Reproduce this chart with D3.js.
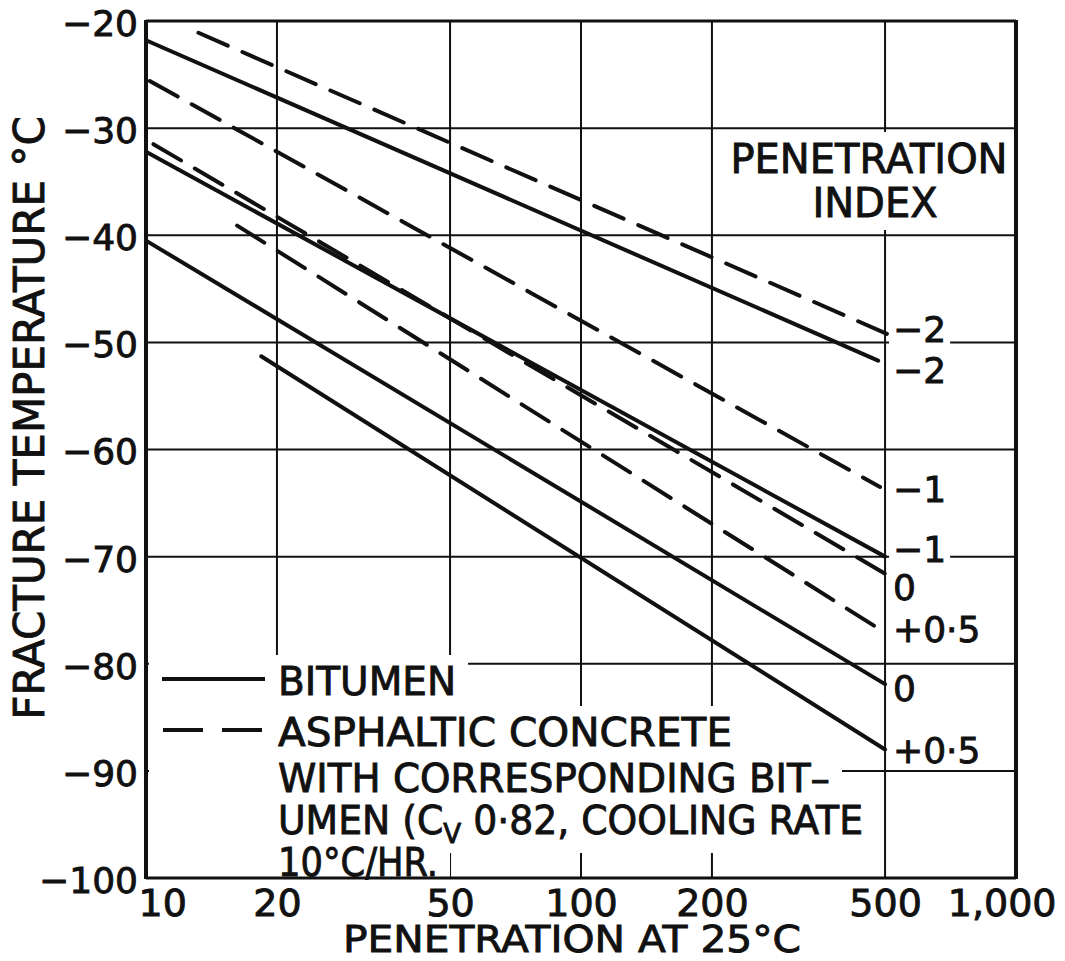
<!DOCTYPE html>
<html>
<head>
<meta charset="utf-8">
<script src="https://cdn.jsdelivr.net/npm/d3@7"></script>
<style>
  body { margin: 0; background: #fff; }
  text { font-family: "DejaVu Sans", sans-serif; fill: #111; stroke: #111; stroke-width: 0.9px; }
</style>
</head>
<body>
<div id="canvas"></div>
<script>
// penetration axis (log)
const penTicks = [10, 20, 50, 100, 200, 500, 1000];
const penTickLabels = ["10", "20", "50", "100", "200", "500", "1,000"];
const penGrid = [20, 50, 100, 200, 500];

// temperature axis
const tempTicks = [-20, -30, -40, -50, -60, -70, -80, -90, -100];
const tempGrid = [-30, -40, -50, -60, -70, -80, -90];

// bitumen (solid) lines: [penetration, temperature] at each end
const bitumenIndex = ["\u22122", "\u22121", "0", "+0\u00b75"];
const bitumenStart = [[10, -21.8], [10, -32.2], [10, -40.5], [18.4, -51.3]];
const bitumenEnd = [[482, -51.7], [500, -70.0], [500, -81.9], [500, -88.0]];
const bitumenLabelTemp = [-52.6, -69.3, -82.3, -88.1];

// asphaltic concrete (dashed) lines
const asphaltIndex = ["\u22122", "\u22121", "0", "+0\u00b75"];
const asphaltStart = [[13.2, -21.1], [10.2, -25.6], [10.4, -31.5], [16.2, -39.1]];
const asphaltEnd = [[505, -49.2], [487, -63.5], [500, -71.6], [487, -76.8]];
const asphaltLabelTemp = [-48.8, -63.7, -72.8, -76.8];

const legendNotes = [
  "ASPHALTIC CONCRETE",
  "WITH CORRESPONDING BIT\u2013",
  "UMEN (C|V| 0\u00b782, COOLING RATE",
  "10\u00b0C/HR."
];

const width = 1065;
const height = 961;
const margin = { top: 21, left: 146, bottom: 83, right: 49 };
const iwidth = width - margin.left - margin.right;
const iheight = height - margin.top - margin.bottom;

const svg = d3.select("#canvas").append("svg")
  .attr("width", width)
  .attr("height", height)
  .style("display", "block");

const x = d3.scaleLog().domain([10, 1000]).range([margin.left, margin.left + iwidth]);
const y = d3.scaleLinear().domain([-100, -20]).range([margin.top + iheight, margin.top]);

const ink = "#111";

// grid
const grid = svg.append("g").attr("stroke", ink).attr("stroke-width", 2);
grid.selectAll("line.v").data(penGrid).enter().append("line")
  .attr("class", "v")
  .attr("x1", (d) => x(d)).attr("x2", (d) => x(d))
  .attr("y1", y(-20)).attr("y2", y(-100));
grid.selectAll("line.h").data(tempGrid).enter().append("line")
  .attr("class", "h")
  .attr("x1", x(10)).attr("x2", x(1000))
  .attr("y1", (d) => y(d)).attr("y2", (d) => y(d));

// white-out layer under the lettering
const mask = svg.append("g").attr("fill", "#fff");
const lines = svg.append("g").attr("fill", "none").attr("stroke", ink).attr("stroke-width", 4);
const frame = svg.append("g").attr("stroke", ink).attr("fill", "none");
const labels = svg.append("g");

function whiteOut(sel, padX, padY) {
  sel.each(function () {
    const b = this.getBBox();
    mask.append("rect")
      .attr("x", b.x - padX).attr("y", b.y - padY)
      .attr("width", b.width + 2 * padX).attr("height", b.height + 2 * padY);
  });
}

// data lines
const bitumen = bitumenStart.map((s, i) => ({ s, e: bitumenEnd[i], lab: bitumenIndex[i], t: bitumenLabelTemp[i] }));
const asphalt = asphaltStart.map((s, i) => ({ s, e: asphaltEnd[i], lab: asphaltIndex[i], t: asphaltLabelTemp[i] }));

lines.selectAll("line.bit").data(bitumen).enter().append("line")
  .attr("class", "bit")
  .attr("x1", (d) => x(d.s[0])).attr("y1", (d) => y(d.s[1]))
  .attr("x2", (d) => x(d.e[0])).attr("y2", (d) => y(d.e[1]))
  .attr("stroke-linecap", "round");

lines.selectAll("line.asp").data(asphalt).enter().append("line")
  .attr("class", "asp")
  .attr("x1", (d) => x(d.s[0])).attr("y1", (d) => y(d.s[1]))
  .attr("x2", (d) => x(d.e[0])).attr("y2", (d) => y(d.e[1]))
  .attr("stroke-linecap", "round")
  .attr("stroke-dasharray", "32,16");

// frame
frame.append("line").attr("x1", x(10)).attr("x2", x(10)).attr("y1", y(-20) - 1).attr("y2", y(-100) + 1).attr("stroke-width", 4);
frame.append("line").attr("x1", x(1000)).attr("x2", x(1000)).attr("y1", y(-20) - 1).attr("y2", y(-100) + 1).attr("stroke-width", 4);
frame.append("line").attr("x1", x(10)).attr("x2", x(1000)).attr("y1", y(-20)).attr("y2", y(-20)).attr("stroke-width", 3);
frame.append("line").attr("x1", x(10)).attr("x2", x(1000)).attr("y1", y(-100)).attr("y2", y(-100)).attr("stroke-width", 3);

// axes (labels only)
const xAxis = svg.append("g")
  .attr("transform", `translate(0,${y(-100)})`)
  .call(d3.axisBottom(x).tickValues(penTicks).tickFormat((d, i) => penTickLabels[i]).tickSize(0).tickPadding(11));
xAxis.select(".domain").remove();
xAxis.selectAll("text").attr("font-size", 38).attr("fill", ink).style("font-family", "DejaVu Sans");
xAxis.selectAll("text").filter((d) => d === 10).attr("text-anchor", "start").attr("dx", -8);
xAxis.selectAll("text").filter((d) => d === 1000).attr("text-anchor", "end").attr("dx", 40);

const yAxis = svg.append("g")
  .attr("transform", `translate(${x(10)},0)`)
  .call(d3.axisLeft(y).tickValues(tempTicks).tickFormat((d) => "\u2212" + Math.abs(d)).tickSize(0).tickPadding(8));
yAxis.select(".domain").remove();
yAxis.selectAll("text").attr("font-size", 36).attr("dy", "0.4em").attr("fill", ink).style("font-family", "DejaVu Sans");

// axis titles
labels.append("text")
  .attr("x", 572).attr("y", 952)
  .attr("text-anchor", "middle")
  .attr("font-size", 38)
  .attr("textLength", 458)
  .attr("lengthAdjust", "spacingAndGlyphs")
  .text("PENETRATION AT 25\u00b0C");

labels.append("text")
  .attr("transform", "translate(44,418) rotate(-90)")
  .attr("text-anchor", "middle")
  .attr("font-size", 42)
  .text("FRACTURE TEMPERATURE \u00b0C");

// penetration index heading
const head = labels.append("g").attr("font-size", 40).attr("text-anchor", "middle");
head.append("text").attr("x", 869).attr("y", 173).text("PENETRATION");
head.append("text").attr("x", 875).attr("y", 217).text("INDEX");
whiteOut(head.selectAll("text"), 8, 4);

// index labels at line ends
const idx = labels.append("g").attr("font-size", 36);
idx.selectAll("text.bl").data(bitumen.concat(asphalt)).enter().append("text")
  .attr("x", x(500) + 8)
  .attr("y", (d) => y(d.t))
  .attr("dy", "0.36em")
  .text((d) => d.lab);
whiteOut(idx.selectAll("text"), 4, -4);

// legend
const leg = labels.append("g").attr("font-size", 39);
const legSym = svg.append("g").attr("stroke", ink).attr("stroke-width", 4);
legSym.append("line").attr("x1", 162).attr("x2", 265).attr("y1", 679).attr("y2", 679);
legSym.append("line").attr("x1", 163).attr("x2", 265).attr("y1", 730).attr("y2", 730)
  .attr("stroke-dasharray", "40,19");

leg.append("text").attr("x", 278).attr("y", 695).text("BITUMEN");
const noteY = [746, 792, 834, 876];
const noteWidth = [454, 552, 585, 160];
legendNotes.forEach((s, i) => {
  const t = leg.append("text").attr("x", 278).attr("y", noteY[i])
    .attr("textLength", noteWidth[i]).attr("lengthAdjust", "spacingAndGlyphs");
  const parts = s.split("|");
  if (parts.length === 1) {
    t.text(s);
  } else {
    t.append("tspan").text(parts[0]);
    t.append("tspan").attr("font-size", 27).attr("dy", 9).text(parts[1]);
    t.append("tspan").attr("dy", -9).text(parts[2]);
  }
});
mask.append("rect").attr("x", x(10) + 3).attr("y", 662).attr("width", 130).attr("height", 214);
whiteOut(leg.selectAll("text"), 12, 4);
</script>
</body>
</html>
